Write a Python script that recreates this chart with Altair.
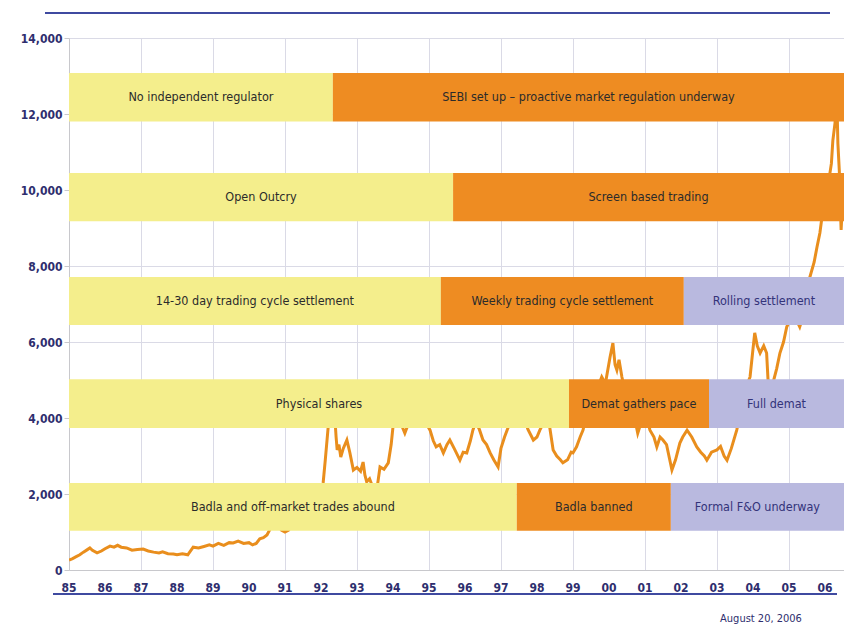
import altair as alt
import pandas as pd

# ---- Sensex line (decimal year, index level) ----
line_year = [
    1985.00, 1985.10, 1985.20, 1985.30, 1985.40, 1985.50, 1985.58, 1985.65, 1985.78, 1985.90,
    1986.00, 1986.14, 1986.25, 1986.35, 1986.45, 1986.60, 1986.75, 1986.90, 1987.06, 1987.20,
    1987.35, 1987.50, 1987.60, 1987.75, 1987.90, 1988.00, 1988.15, 1988.30, 1988.45, 1988.60,
    1988.75, 1988.90, 1989.00, 1989.15, 1989.30, 1989.45, 1989.56, 1989.70, 1989.85, 1990.00,
    1990.10, 1990.20, 1990.30, 1990.40, 1990.50, 1990.60, 1990.70, 1990.80, 1990.90, 1991.00,
    1991.10, 1991.20, 1991.40, 1991.60, 1991.80, 1992.00, 1992.06, 1992.12, 1992.20, 1992.28,
    1992.33, 1992.38, 1992.42, 1992.45, 1992.50, 1992.55, 1992.62, 1992.72, 1992.80, 1992.90,
    1993.00, 1993.10, 1993.17, 1993.22, 1993.27, 1993.35, 1993.45, 1993.55, 1993.64, 1993.75,
    1993.87, 1993.95, 1994.00, 1994.10, 1994.20, 1994.33, 1994.45, 1994.60, 1994.75, 1994.90,
    1995.03, 1995.12, 1995.20, 1995.30, 1995.40, 1995.50, 1995.58, 1995.70, 1995.86, 1995.95,
    1996.05, 1996.15, 1996.22, 1996.30, 1996.40, 1996.50, 1996.60, 1996.70, 1996.80, 1996.92,
    1997.00, 1997.10, 1997.17, 1997.30, 1997.45, 1997.60, 1997.75, 1997.90, 1998.00, 1998.08,
    1998.20, 1998.30, 1998.45, 1998.55, 1998.65, 1998.72, 1998.85, 1998.95, 1999.00, 1999.10,
    1999.20, 1999.28, 1999.40, 1999.50, 1999.65, 1999.80, 1999.90, 2000.03, 2000.11, 2000.17,
    2000.22, 2000.28, 2000.36, 2000.45, 2000.55, 2000.65, 2000.80, 2000.90, 2001.00, 2001.14,
    2001.25, 2001.33, 2001.42, 2001.50, 2001.60, 2001.75, 2001.85, 2001.97, 2002.05, 2002.17,
    2002.30, 2002.44, 2002.55, 2002.65, 2002.72, 2002.85, 2003.00, 2003.10, 2003.20, 2003.28,
    2003.40, 2003.55, 2003.65, 2003.80, 2003.92, 2004.00, 2004.05, 2004.12, 2004.20, 2004.30,
    2004.38, 2004.42, 2004.47, 2004.55, 2004.66, 2004.75, 2004.85, 2004.94, 2005.05, 2005.15,
    2005.30, 2005.40, 2005.50, 2005.58, 2005.70, 2005.78, 2005.86, 2005.92, 2006.00, 2006.10,
    2006.18, 2006.22, 2006.28, 2006.33, 2006.36, 2006.40, 2006.42, 2006.45, 2006.49, 2006.53,
]
line_value = [
    260, 300, 350, 400, 470, 530, 580, 520, 450, 500,
    560, 630, 600, 650, 600, 580, 520, 540, 550, 500,
    470, 450, 480, 430, 420, 400, 430, 400, 600, 580,
    620, 660, 630, 700, 650, 720, 710, 760, 700, 720,
    660, 700, 820, 850, 920, 1100, 1300, 1200, 1050, 1000,
    1050, 1200, 1300, 1500, 1800, 1950, 2290, 2900, 3760, 4300,
    4450, 4100, 3500, 3160, 3300, 2970, 3200, 3420, 3100, 2630,
    2700, 2600, 2840, 2500, 2320, 2400, 2150, 2100, 2710, 2650,
    2820, 3300, 3760, 4100, 3900, 3600, 3900, 4300, 4200, 3900,
    3680, 3400, 3240, 3300, 3080, 3300, 3420, 3200, 2890, 3100,
    3080, 3400, 3680, 3900, 3700, 3420, 3300, 3080, 2900, 2710,
    3200, 3500, 3680, 4000, 4300, 4100, 3700, 3420, 3500, 3680,
    3900, 4100, 3160, 3000, 2900, 2820, 2900, 3100, 3080, 3240,
    3500, 3680, 4200, 4400, 4700, 5080, 4900, 5600, 5970, 5400,
    5260, 5530, 5080, 4700, 4800, 4300, 3600, 3900, 4200, 3680,
    3500, 3240, 3500, 3420, 3300, 2630, 2900, 3340, 3500, 3680,
    3500, 3240, 3100, 3000, 2890, 3100, 3160, 3250, 3000, 2890,
    3200, 3680, 4100, 4800, 5080, 5800, 6240, 5900, 5710, 5900,
    5710, 5000, 4600, 4900, 5300, 5710, 6000, 6400, 6600, 6700,
    6400, 6700, 7200, 7700, 8100, 8500, 8870, 9300, 9500, 10200,
    10700, 11300, 11760, 12500, 11230, 10500, 9800, 8950, 9700, 10000,
]

# ---- Regime bands ----
band_label = [
    "No independent regulator", "SEBI set up \u2013 proactive market regulation underway",
    "Open Outcry", "Screen based trading",
    "14-30 day trading cycle settlement", "Weekly trading cycle settlement", "Rolling settlement",
    "Physical shares", "Demat gathers pace", "Full demat",
    "Badla and off-market trades abound", "Badla banned", "Formal F&O underway",
]
band_start = [1985.0, 1992.33, 1985.0, 1995.67, 1985.0, 1995.33, 2002.08,
              1985.0, 1998.89, 2002.78, 1985.0, 1997.44, 2001.72]
band_end = [1992.33, 2006.53, 1995.67, 2006.53, 1995.33, 2002.08, 2006.53,
            1998.89, 2002.78, 2006.53, 1997.44, 2001.72, 2006.53]
band_low = [11800, 11800, 9180, 9180, 6450, 6450, 6450, 3740, 3740, 3740, 1030, 1030, 1030]
band_high = [13080, 13080, 10450, 10450, 7710, 7710, 7710, 5020, 5020, 5020, 2290, 2290, 2290]
band_phase = ["old", "reform", "old", "reform", "old", "reform", "modern",
              "old", "reform", "modern", "old", "reform", "modern"]

x_ticks = list(range(1985, 2007))
x_tick_labels = ["85", "86", "87", "88", "89", "90", "91", "92", "93", "94", "95",
                 "96", "97", "98", "99", "00", "01", "02", "03", "04", "05", "06"]
y_ticks = [0, 2000, 4000, 6000, 8000, 10000, 12000, 14000]

FONT = "DejaVu Sans Condensed"
NAVY = "#2e2e6e"

line_df = pd.DataFrame({"year": line_year, "value": line_value})
band_df = pd.DataFrame({
    "label": band_label, "start": band_start, "end": band_end,
    "low": band_low, "high": band_high, "phase": band_phase,
})
tick_df = pd.DataFrame({"tick": x_ticks, "lab": x_tick_labels})

xs = alt.Scale(domain=[1985, 2006.53], nice=False, zero=False)
ys = alt.Scale(domain=[0, 14000], nice=False)

x_axis = alt.Axis(
    values=x_ticks, labels=False, title=None,
    grid=True, gridColor="#dadae6", ticks=False,
    domainColor="#c8c8cc",
)
y_axis = alt.Axis(
    values=y_ticks, format=",d", title=None, grid=True, gridColor="#dadae6",
    tickSize=5, tickColor="#c8c8cc", labelPadding=2, domainColor="#c8c8cc",
    labelOverlap=False, labelFlush=False,
    labelColor=NAVY, labelFont=FONT, labelFontSize=12, labelFontWeight="bold",
)

line = alt.Chart(line_df).mark_line(color="#e98e1d", strokeWidth=3, clip=True).encode(
    x=alt.X("year:Q", scale=xs, axis=x_axis),
    y=alt.Y("value:Q", scale=ys, axis=y_axis),
)

bands = alt.Chart(band_df).mark_rect().encode(
    x=alt.X("start:Q", scale=xs),
    x2="end:Q",
    y=alt.Y("low:Q", scale=ys),
    y2="high:Q",
    color=alt.Color("phase:N", legend=None,
                    scale=alt.Scale(domain=["old", "reform", "modern"],
                                    range=["#f4ee8c", "#ee8c22", "#b9b9df"])),
)

band_text = alt.Chart(band_df).transform_calculate(
    mid="(datum.start + datum.end) / 2", ymid="(datum.low + datum.high) / 2"
).mark_text(font=FONT, fontSize=12.5, align="center", baseline="middle").encode(
    x=alt.X("mid:Q", scale=xs),
    y=alt.Y("ymid:Q", scale=ys),
    text="label:N",
    color=alt.condition("datum.phase == 'modern'", alt.value("#33337a"), alt.value("#2b2b2b")),
)

tick_text = alt.Chart(tick_df).mark_text(
    font=FONT, fontSize=12, fontWeight="bold", color=NAVY, align="center", baseline="middle"
).encode(
    x=alt.X("tick:Q", scale=xs),
    y=alt.value(550),
    text="lab:N",
)

one = pd.DataFrame({"a": [0]})
top_rule = alt.Chart(one).mark_rule(color="#3f4aa0", strokeWidth=2).encode(
    x=alt.value(-24), x2=alt.value(761), y=alt.value(-25))
bottom_rule = alt.Chart(one).mark_rule(color="#3f4aa0", strokeWidth=2).encode(
    x=alt.value(-16), x2=alt.value(768), y=alt.value(556))
date_text = alt.Chart(one).mark_text(
    text="August 20, 2006", font=FONT, fontSize=11, color=NAVY, align="center", baseline="middle"
).encode(x=alt.value(692), y=alt.value(581))

chart = alt.layer(line, bands, band_text, tick_text, top_rule, bottom_rule, date_text).properties(
    width=775, height=532,
    padding={"left": 61, "top": 30, "right": 0, "bottom": 56},
    autosize=alt.AutoSizeParams(type="none"),
    background="white",
).configure_view(stroke=None)

chart.save("out.html", embed_options={"renderer": "svg", "actions": False})
